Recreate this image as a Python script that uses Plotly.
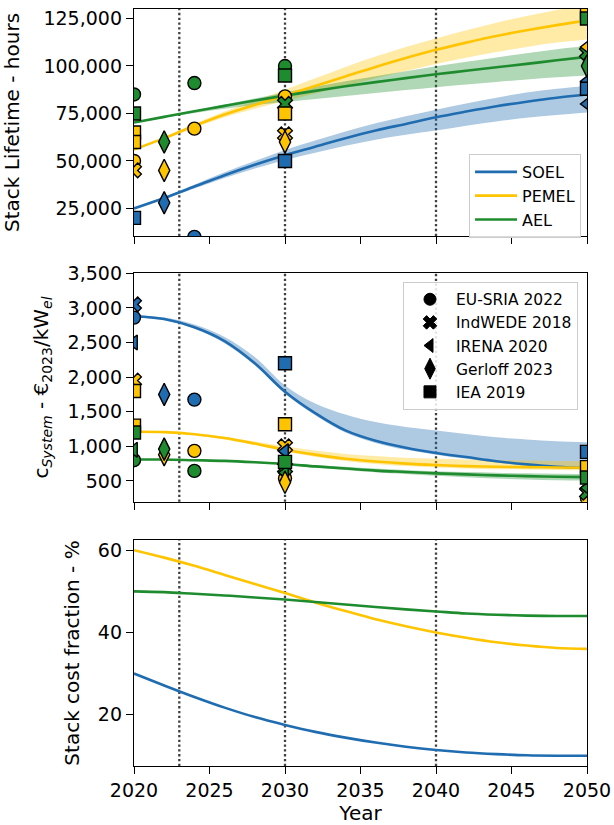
import plotly.graph_objects as go
from plotly.subplots import make_subplots

# ---------------- data ----------------
years = [2020, 2022, 2024, 2026, 2028, 2030, 2032, 2034, 2036, 2038, 2040, 2042, 2044, 2046, 2048, 2050]
techs = ["SOEL", "PEMEL", "AEL"]
tech_colors = ["#1f6cb0", "#ffc400", "#1e8c2e"]
band_colors = ["rgba(31,108,176,0.36)", "rgba(255,196,0,0.35)", "rgba(30,140,46,0.35)"]

# Panel 1: stack lifetime (hours)
lt_soel = [25000, 30500, 36500, 42500, 48000, 53000, 57500, 62000, 66000, 69500, 73000, 76000, 78800, 81200, 83300, 85000]
lt_soel_lo = [25000, 30000, 35500, 41000, 46000, 50500, 54300, 58000, 61200, 63800, 66000, 68500, 70800, 72700, 74200, 75500]
lt_soel_hi = [25000, 31000, 37500, 44000, 50000, 55800, 60700, 65500, 69800, 73500, 77000, 80300, 83300, 86000, 88000, 89500]
lt_pemel = [56000, 62000, 68500, 74500, 79500, 84500, 89500, 94500, 99500, 104200, 108500, 112300, 115800, 118800, 121500, 124000]
lt_pemel_lo = [56000, 61500, 67500, 73000, 77500, 81500, 85500, 89500, 93500, 97300, 101000, 104300, 107300, 110000, 112300, 114000]
lt_pemel_hi = [56000, 62500, 69500, 76000, 81500, 87500, 93500, 99500, 105000, 110000, 114500, 118800, 122800, 126300, 129500, 132000]
lt_ael = [70200, 73200, 76200, 79000, 81800, 84400, 86900, 89300, 91500, 93600, 95600, 97500, 99300, 101100, 103000, 104800]
lt_ael_lo = [70200, 72800, 75300, 77500, 79400, 81000, 82600, 84200, 85800, 87300, 88800, 90200, 91600, 92900, 94000, 95000]
lt_ael_hi = [70200, 73400, 76600, 79700, 82900, 86000, 89000, 91900, 94600, 97200, 99800, 102200, 104500, 106700, 108800, 110500]

# Panel 2: system cost (EUR2023/kWel)
sc_soel = [2880, 2840, 2720, 2520, 2200, 1790, 1480, 1230, 1080, 980, 905, 845, 785, 740, 705, 685]
sc_soel_lo = [2870, 2820, 2700, 2490, 2170, 1760, 1450, 1200, 1050, 950, 880, 820, 765, 720, 690, 670]
sc_soel_hi = [2890, 2860, 2760, 2580, 2290, 1880, 1620, 1460, 1350, 1280, 1230, 1180, 1130, 1100, 1075, 1060]
sc_pemel = [1210, 1205, 1175, 1120, 1040, 950, 880, 820, 780, 750, 730, 715, 705, 700, 695, 690]
sc_pemel_lo = [1205, 1198, 1165, 1100, 1020, 925, 850, 790, 745, 715, 695, 680, 670, 665, 660, 655]
sc_pemel_hi = [1215, 1212, 1185, 1140, 1070, 1000, 940, 890, 860, 835, 820, 810, 800, 795, 790, 790]
sc_ael = [810, 810, 800, 790, 770, 745, 710, 680, 650, 630, 610, 595, 580, 570, 560, 555]
sc_ael_lo = [805, 805, 795, 782, 760, 735, 695, 660, 625, 600, 575, 555, 535, 520, 510, 505]
sc_ael_hi = [815, 815, 806, 798, 782, 760, 730, 705, 680, 660, 640, 628, 618, 610, 604, 600]

# Panel 3: stack cost fraction (%)
sf_soel = [30, 27.1, 24.3, 21.7, 19.4, 17.5, 15.8, 14.4, 13.2, 12.2, 11.4, 10.8, 10.4, 10.1, 10.0, 10.0]
sf_pemel = [60, 58.2, 56.2, 54.0, 51.8, 49.6, 47.3, 45.2, 43.2, 41.5, 40.0, 38.7, 37.6, 36.8, 36.2, 36.0]
sf_ael = [50, 49.8, 49.4, 49.0, 48.5, 48.0, 47.4, 46.8, 46.2, 45.6, 45.1, 44.6, 44.3, 44.1, 44.0, 44.0]

# Literature sources
sources = ["EU-SRIA 2022", "IndWEDE 2018", "IRENA 2020", "Gerloff 2023", "IEA 2019"]
source_symbols = ["circle", "x", "triangle-left", "diamond-tall", "square"]

# Lifetime literature points
lt_eusria_x = [2020, 2020, 2024, 2024, 2024, 2030, 2030]
lt_eusria_y = [85000, 50000, 91000, 67000, 10000, 100000, 84000]
lt_eusria_t = ["AEL", "PEMEL", "AEL", "PEMEL", "SOEL", "AEL", "PEMEL"]
lt_indwede_x = [2020, 2030, 2030, 2050]
lt_indwede_y = [45000, 80000, 64000, 107000]
lt_indwede_t = ["PEMEL", "AEL", "PEMEL", "AEL"]
lt_irena_x = [2050, 2050, 2050]
lt_irena_y = [110000, 92000, 80000]
lt_irena_t = ["PEMEL", "SOEL", "SOEL"]
lt_gerloff_x = [2022, 2022, 2022, 2030, 2050]
lt_gerloff_y = [60000, 45000, 28000, 60000, 100000]
lt_gerloff_t = ["AEL", "PEMEL", "SOEL", "PEMEL", "AEL"]
lt_iea_x = [2020, 2020, 2020, 2020, 2030, 2030, 2030, 2050, 2050, 2050]
lt_iea_y = [75000, 65000, 60000, 20000, 95000, 75000, 50000, 128000, 125000, 88000]
lt_iea_t = ["AEL", "PEMEL", "PEMEL", "SOEL", "AEL", "PEMEL", "SOEL", "PEMEL", "AEL", "SOEL"]

# System cost literature points
sc_eusria_x = [2020, 2020, 2024, 2024, 2024, 2030, 2050]
sc_eusria_y = [2860, 800, 1675, 935, 645, 540, 250]
sc_eusria_t = ["SOEL", "AEL", "SOEL", "PEMEL", "AEL", "PEMEL", "PEMEL"]
sc_indwede_x = [2020, 2020, 2030, 2030, 2050]
sc_indwede_y = [3050, 1950, 1000, 690, 330]
sc_indwede_t = ["SOEL", "PEMEL", "PEMEL", "AEL", "AEL"]
sc_irena_x = [2020, 2020, 2030, 2030, 2050]
sc_irena_y = [2500, 950, 930, 620, 400]
sc_irena_t = ["SOEL", "AEL", "SOEL", "AEL", "AEL"]
sc_gerloff_x = [2022, 2022, 2022, 2030]
sc_gerloff_y = [1750, 880, 960, 480]
sc_gerloff_t = ["SOEL", "PEMEL", "AEL", "PEMEL"]
sc_iea_x = [2020, 2020, 2020, 2030, 2030, 2030, 2050, 2050, 2050]
sc_iea_y = [1800, 1300, 1200, 2200, 1320, 775, 920, 700, 550]
sc_iea_t = ["PEMEL", "PEMEL", "AEL", "SOEL", "PEMEL", "AEL", "SOEL", "PEMEL", "AEL"]

milestone_years = [2023, 2030, 2040]
x_ticks = [2020, 2025, 2030, 2035, 2040, 2045, 2050]
lt_ticks = [25000, 50000, 75000, 100000, 125000]
sc_ticks = [500, 1000, 1500, 2000, 2500, 3000, 3500]
sf_ticks = [20, 40, 60]

# ---------------- figure ----------------
FONT = "DejaVu Sans"
fig = make_subplots(rows=3, cols=1)
color_of = dict(zip(techs, tech_colors))

lt_bands = [(lt_soel_lo, lt_soel_hi), (lt_pemel_lo, lt_pemel_hi), (lt_ael_lo, lt_ael_hi)]
lt_lines = [lt_soel, lt_pemel, lt_ael]
sc_bands = [(sc_soel_lo, sc_soel_hi), (sc_pemel_lo, sc_pemel_hi), (sc_ael_lo, sc_ael_hi)]
sc_lines = [sc_soel, sc_pemel, sc_ael]
sf_lines = [sf_soel, sf_pemel, sf_ael]


def msize(sym, base=13):
    return base + 3 if sym == "diamond-tall" else base


def add_bands(bands, row):
    for (lo, hi), bc in zip(bands, band_colors):
        fig.add_trace(go.Scatter(x=years, y=lo, mode="lines", line=dict(width=0, shape="spline"),
                                 showlegend=False, hoverinfo="skip"), row=row, col=1)
        fig.add_trace(go.Scatter(x=years, y=hi, mode="lines", line=dict(width=0, shape="spline"),
                                 fill="tonexty", fillcolor=bc, showlegend=False, hoverinfo="skip"),
                      row=row, col=1)


def add_lines(lines, row, legend=False):
    for name, vals, c in zip(techs, lines, tech_colors):
        fig.add_trace(go.Scatter(x=years, y=vals, mode="lines", name=name,
                                 line=dict(color=c, width=2.6, shape="spline"),
                                 showlegend=legend, legend="legend"), row=row, col=1)


def add_points(groups, row):
    for (xs, ys, ts), sym, src in zip(groups, source_symbols, sources):
        fig.add_trace(go.Scatter(x=xs, y=ys, mode="markers", name=src, showlegend=False,
                                 cliponaxis=True,
                                 marker=dict(symbol=sym, size=msize(sym),
                                             color=[color_of[t] for t in ts],
                                             line=dict(color="black", width=1.4))),
                      row=row, col=1)


add_bands(lt_bands, 1)
add_lines(lt_lines, 1, legend=True)
add_points([(lt_eusria_x, lt_eusria_y, lt_eusria_t), (lt_indwede_x, lt_indwede_y, lt_indwede_t),
            (lt_irena_x, lt_irena_y, lt_irena_t), (lt_gerloff_x, lt_gerloff_y, lt_gerloff_t),
            (lt_iea_x, lt_iea_y, lt_iea_t)], 1)

add_bands(sc_bands, 2)
add_lines(sc_lines, 2)
add_points([(sc_eusria_x, sc_eusria_y, sc_eusria_t), (sc_indwede_x, sc_indwede_y, sc_indwede_t),
            (sc_irena_x, sc_irena_y, sc_irena_t), (sc_gerloff_x, sc_gerloff_y, sc_gerloff_t),
            (sc_iea_x, sc_iea_y, sc_iea_t)], 2)

add_lines(sf_lines, 3)

# legend entries for sources (black markers)
for src, sym in zip(sources, source_symbols):
    fig.add_trace(go.Scatter(x=[None], y=[None], mode="markers", name=src, legend="legend2",
                             marker=dict(symbol=sym, size=msize(sym, 12),
                                         color="black", line=dict(color="black", width=1))),
                  row=2, col=1)

# milestone dotted lines
shapes = []
for ax in ["", "2", "3"]:
    for yr in milestone_years:
        shapes.append(dict(type="line", xref="x" + ax, yref=("y" + ax + " domain"),
                           x0=yr, x1=yr, y0=0, y1=1, layer="below",
                           line=dict(color="#404040", width=2.3, dash="2.3px,2.5px")))

axis_common = dict(showline=True, linecolor="black", linewidth=1.4, mirror=True,
                   ticks="outside", ticklen=7, tickwidth=1.4, tickcolor="black",
                   showgrid=False, zeroline=False, automargin=False,
                   tickfont=dict(family=FONT, size=19, color="black"))

domains = [[0.7002, 1.0], [0.3491, 0.6509], [0.0, 0.2986]]
for i in range(3):
    sfx = "" if i == 0 else str(i + 1)
    fig.layout["xaxis" + sfx].update(range=[2020, 2050], tickvals=x_ticks,
                                     showticklabels=(i == 2), **axis_common)
    fig.layout["yaxis" + sfx].update(domain=domains[i], **axis_common)

TITLE_FONT = dict(family=FONT, size=20, color="black")
fig.update_layout(
    yaxis=dict(range=[10500, 130000], tickvals=lt_ticks, tickformat=",",
               title=dict(text="Stack Lifetime - hours", font=TITLE_FONT, standoff=18)),
    yaxis2=dict(range=[200, 3500], tickvals=sc_ticks, tickformat=",",
                title=dict(text="c<sub><i>System</i></sub> - €<sub>2023</sub>/kW<sub><i>el</i></sub>",
                           font=TITLE_FONT, standoff=13)),
    yaxis3=dict(range=[7.5, 62.5], tickvals=sf_ticks,
                title=dict(text="Stack cost fraction - %", font=TITLE_FONT, standoff=12)),
    xaxis3=dict(title=dict(text="Year", font=TITLE_FONT, standoff=15)),
    shapes=shapes,
    width=614, height=825, autosize=False,
    margin=dict(l=134, r=27, t=9, b=59, autoexpand=False),
    paper_bgcolor="white", plot_bgcolor="white",
    font=dict(family=FONT, color="black"),
    legend=dict(x=0.7396, y=0.8085, xanchor="left", yanchor="top", traceorder="normal",
                bgcolor="rgba(255,255,255,0.85)", bordercolor="#cccccc", borderwidth=1,
                font=dict(family=FONT, size=16, color="black"), itemwidth=42),
    legend2=dict(x=0.5938, y=0.6398, xanchor="left", yanchor="top", traceorder="normal",
                 bgcolor="rgba(255,255,255,0.85)", bordercolor="#cccccc", borderwidth=1,
                 font=dict(family=FONT, size=15.5, color="black"), itemwidth=42),
)

fig.write_html("out.html")
